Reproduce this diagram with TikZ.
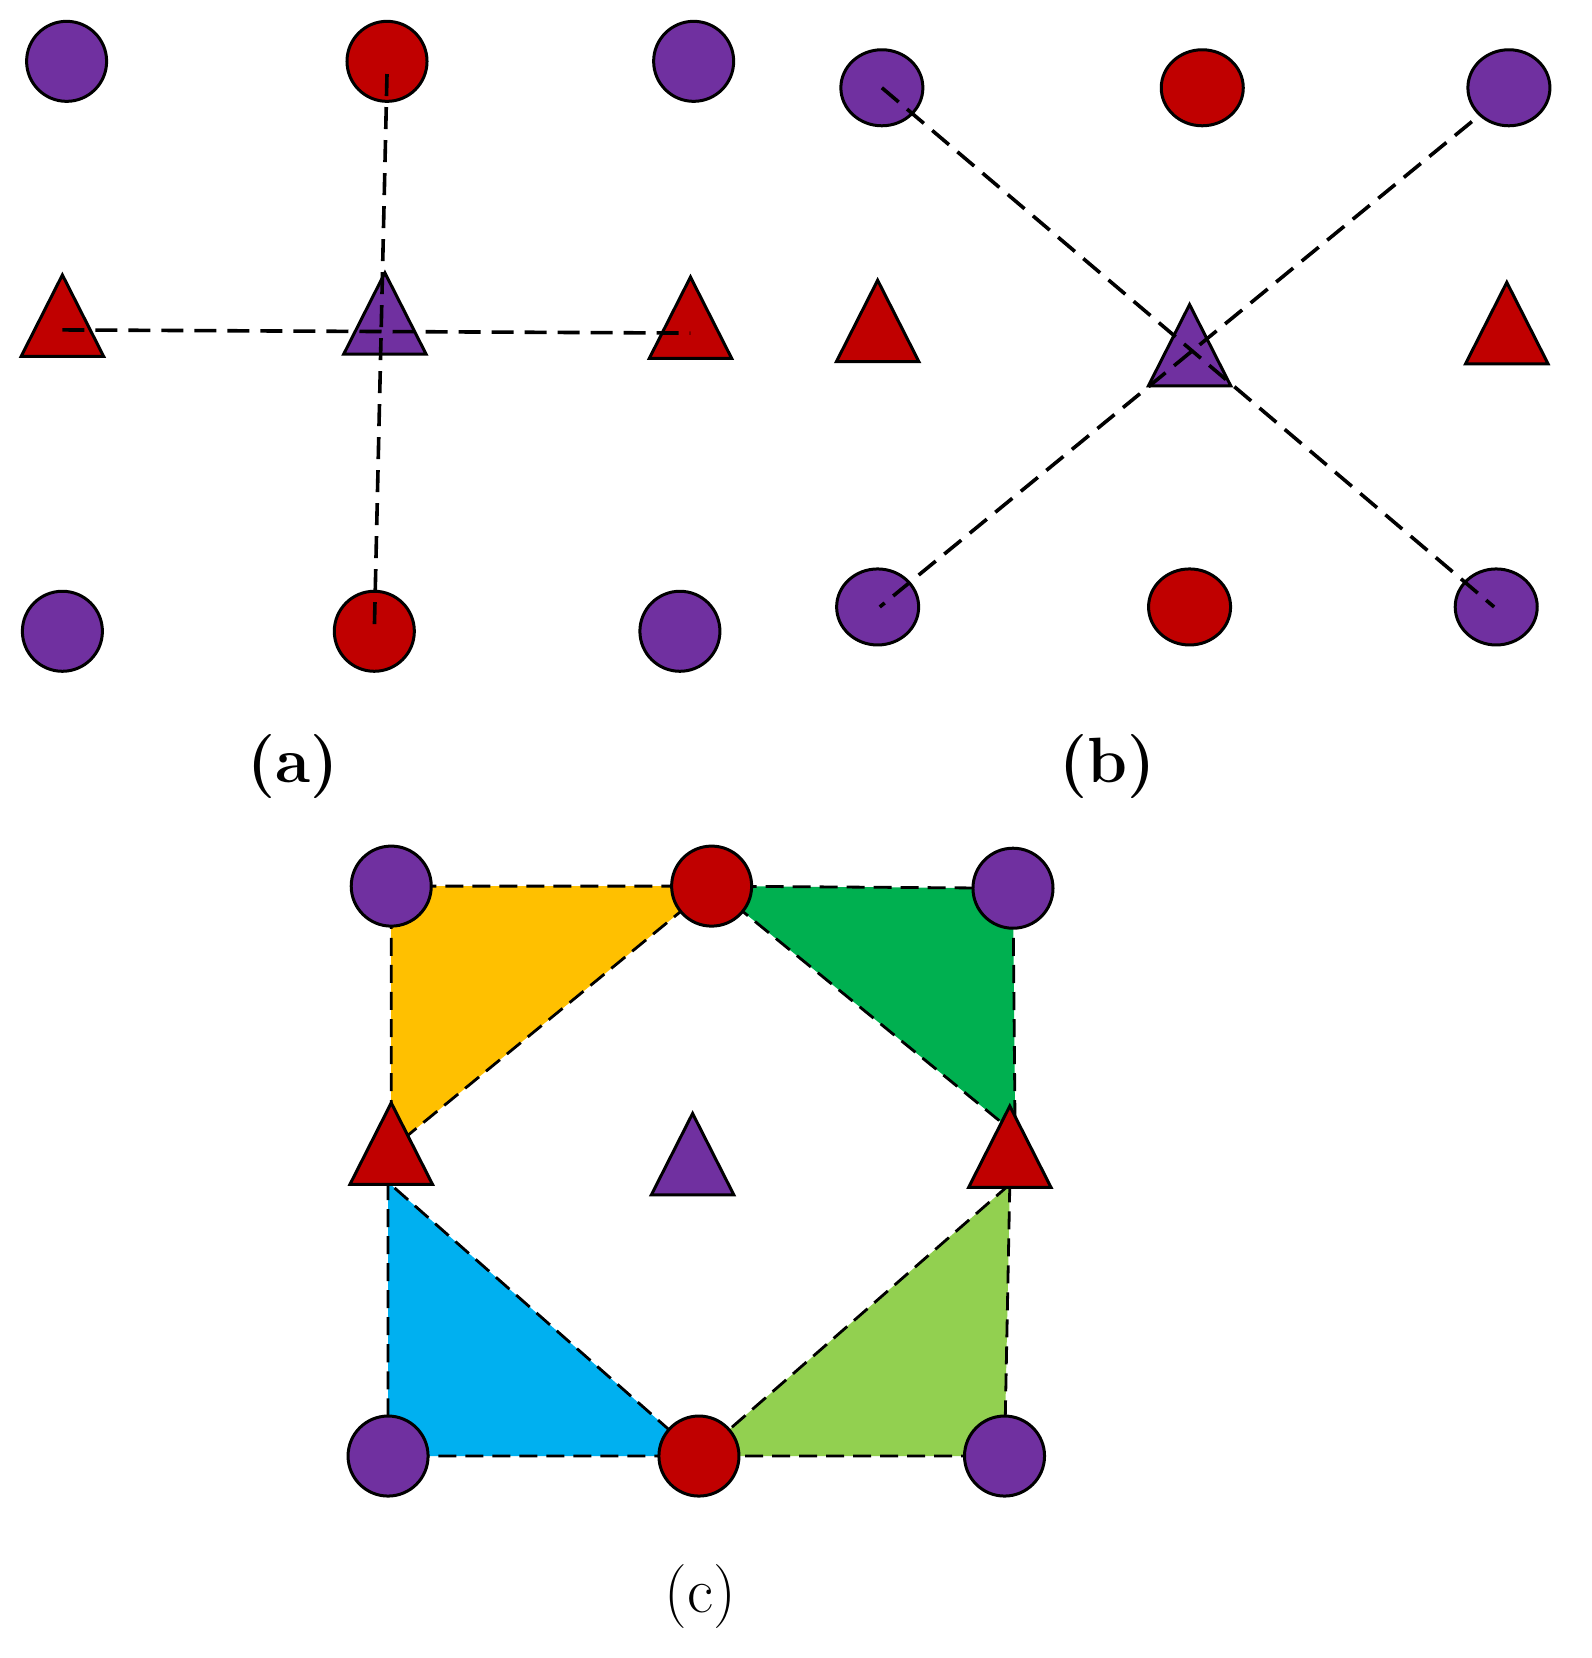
\documentclass[tikz,border=0pt]{standalone}
\usetikzlibrary{shapes.geometric}
\definecolor{pur}{HTML}{7030A0}
\definecolor{rd}{HTML}{C00000}
\definecolor{yel}{HTML}{FFC000}
\definecolor{grn}{HTML}{00B050}
\definecolor{blu}{HTML}{00B0F0}
\definecolor{lgr}{HTML}{92D050}
\begin{document}
\begin{tikzpicture}[x=0.5285pt,y=-0.5285pt,
  dot/.style={circle,draw=black,line width=1.5pt,minimum size=40pt,inner sep=0pt},
  ell/.style={ellipse,draw=black,line width=1.5pt,minimum width=41pt,minimum height=38pt,inner sep=0pt},
  dsh/.style={line width=1.8pt,dash pattern=on 11pt off 5.5pt},
  dshc/.style={line width=1.4pt,dash pattern=on 9pt off 4.5pt},
  lab/.style={font=\fontsize{32}{38}\selectfont}]
\useasboundingbox (0,0) rectangle (1505,1568);
\newcommand\tri[3]{\draw[fill=#3,line width=1.5pt,line join=miter] (#1,#2-40) -- (#1+39,#2+37) -- (#1-39,#2+37) -- cycle; \coordinate (t#1) at (#1,#2);}
% (a)
\node[dot,fill=pur] (p1) at (63,58) {};
\node[dot,fill=rd] (p2) at (366,58) {};
\node[dot,fill=pur] (p3) at (656,58) {};
\node[dot,fill=pur] (p7) at (59,597) {};
\node[dot,fill=rd] (p8) at (354,597) {};
\node[dot,fill=pur] (p9) at (643,597) {};
\tri{59}{300}{rd}
\tri{364}{298}{pur}
\tri{653}{302}{rd}
\draw[dsh] (366,70) coordinate (a1) -- (354,597) coordinate (a2);
\draw[dsh] (59,312) coordinate (a3) -- (653,315) coordinate (a4);
\node[lab,font=\fontsize{32}{38}\selectfont\bfseries] (la) at (277,725) {(a)};
% (b)
\node[ell,fill=pur] (q1) at (834,83) {};
\node[ell,fill=rd] (q2) at (1137,83) {};
\node[ell,fill=pur] (q3) at (1427,83) {};
\node[ell,fill=pur] (q7) at (830,574) {};
\node[ell,fill=rd] (q8) at (1125,574) {};
\node[ell,fill=pur] (q9) at (1415,574) {};
\tri{830}{305}{rd}
\tri{1125}{328}{pur}
\tri{1425}{307}{rd}
\draw[dsh] (834,83) -- (1413,574);
\draw[dsh] (1392,115) -- (832,574);
\node[lab,font=\fontsize{32}{38}\selectfont\bfseries] (lb) at (1047,725) {(b)};
% (c)
\draw[dshc,fill=yel] (370,838) -- (673,838) -- (378,1080) -- (370,1080) -- cycle;
\draw[dshc,fill=grn] (673,838) -- (958,840) -- (960,1072) -- cycle;
\draw[dshc,fill=blu] (367,1118) -- (367,1377) -- (661,1377) -- cycle;
\draw[dshc,fill=lgr] (955,1120) -- (950,1377) -- (661,1377) -- cycle;
\node[dot,fill=pur] (r1) at (370,838) {};
\node[dot,fill=rd] (r2) at (673,838) {};
\node[dot,fill=pur] (r3) at (958,840) {};
\node[dot,fill=pur] (r7) at (367,1377) {};
\node[dot,fill=rd] (r8) at (661,1377) {};
\node[dot,fill=pur] (r9) at (950,1377) {};
\tri{370}{1083}{rd}
\tri{655}{1093}{pur}
\tri{955}{1086}{rd}
\node[lab] (lc) at (662,1510) {(c)};
\end{tikzpicture}
\end{document}
